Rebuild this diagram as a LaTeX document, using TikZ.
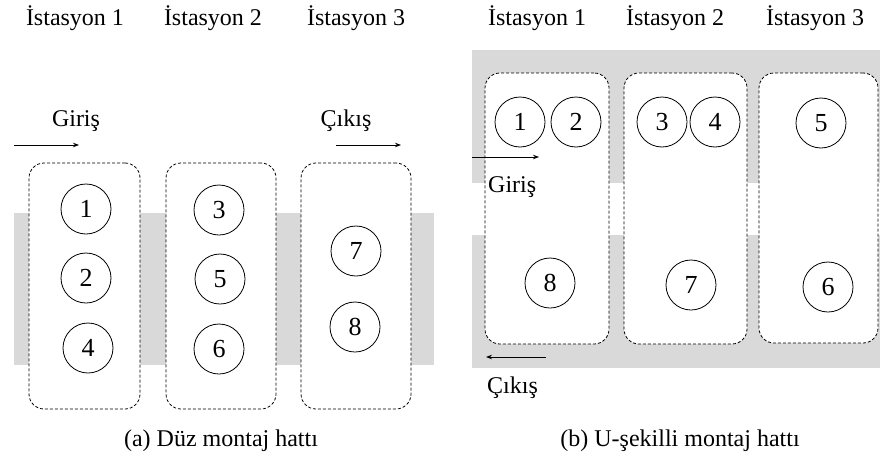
\documentclass[tikz,border=0pt]{standalone}
\usepackage{fontspec}
\setmainfont{Liberation Serif}
\usetikzlibrary{arrows.meta}
\definecolor{linegray}{RGB}{217,217,217}
\tikzset{
  lbl/.style={font=\fontsize{24}{28}\selectfont, inner sep=0pt, anchor=base},
  stationbox/.style={draw, dashed, dash pattern=on 3pt off 2pt, fill=white,
    rounded corners=15pt, line width=0.8pt, inner sep=0pt},
  task/.style={draw, circle, minimum size=50pt, inner sep=0pt, line width=0.8pt,
    font=\fontsize{26}{30}\selectfont},
  flow/.style={line width=0.9pt, -{Stealth[length=6pt,width=4.5pt]}}
}
\begin{document}
\begin{tikzpicture}[x=1pt,y=-1pt]
\useasboundingbox (0,0) rectangle (880,466);

% ---------- (a) straight line ----------
\fill[linegray] (14,213) rectangle (434,365);

\node[stationbox, minimum width=111pt, minimum height=246pt] (a1) at (84.5,286) {};
\node[stationbox, minimum width=110pt, minimum height=246pt] (a2) at (221,286) {};
\node[stationbox, minimum width=110pt, minimum height=246pt] (a3) at (356,286) {};

\node[task] (t1) at (86,209) {1};
\node[task] (t2) at (86,278) {2};
\node[task] (t4) at (88,348) {4};
\node[task] (t3) at (219,210) {3};
\node[task] (t5) at (220,279) {5};
\node[task] (t6) at (219,349) {6};
\node[task] (t7) at (356,251) {7};
\node[task] (t8) at (355,327) {8};

\node[lbl] (ha1) at (75,25) {İstasyon 1};
\node[lbl] (ha2) at (213,25) {İstasyon 2};
\node[lbl] (ha3) at (356,25) {İstasyon 3};

\node[lbl] (ina) at (76,126) {Giriş};
\node[lbl] (outa) at (346,126) {Çıkış};
\coordinate (ina0) at (14,145);
\coordinate (ina1) at (79,145);
\coordinate (outa0) at (336,145);
\coordinate (outa1) at (401,145);
\draw[flow] (ina0) -- (ina1);
\draw[flow] (outa0) -- (outa1);

\node[lbl] (capa) at (221,446) {(a) Düz montaj hattı};

% ---------- (b) U-shaped line ----------
\fill[linegray] (472,50) rectangle (880,183);
\fill[linegray] (472,235) rectangle (880,368);

\node[stationbox, minimum width=124pt, minimum height=271pt] (b1) at (547,208.5) {};
\node[stationbox, minimum width=123pt, minimum height=271pt] (b2) at (685.5,208.5) {};
\node[stationbox, minimum width=119pt, minimum height=270pt] (b3) at (818.5,208) {};

\node[task] (u1) at (520,122) {1};
\node[task] (u2) at (576,122) {2};
\node[task] (u3) at (662,122) {3};
\node[task] (u4) at (715,122) {4};
\node[task] (u5) at (821,123) {5};
\node[task] (u8) at (550,283) {8};
\node[task] (u7) at (691,285) {7};
\node[task] (u6) at (828,287) {6};

\node[lbl] (hb1) at (537,25) {İstasyon 1};
\node[lbl] (hb2) at (675,25) {İstasyon 2};
\node[lbl] (hb3) at (815,25) {İstasyon 3};

\coordinate (inb0) at (472,157);
\coordinate (inb1) at (539,157);
\draw[flow] (inb0) -- (inb1);
\node[lbl, anchor=base west] (inb) at (488,192) {Giriş};

\coordinate (outb0) at (546,357);
\coordinate (outb1) at (486,357);
\draw[flow] (outb0) -- (outb1);
\node[lbl, anchor=base west] (outb) at (487,393) {Çıkış};

\node[lbl] (capb) at (680,446) {(b) U-şekilli montaj hattı};
\end{tikzpicture}
\end{document}
